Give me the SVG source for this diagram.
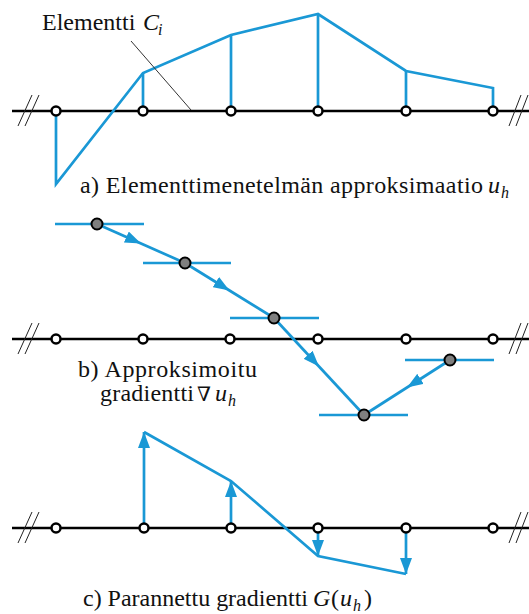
<svg xmlns="http://www.w3.org/2000/svg" width="529" height="614" viewBox="0 0 529 614">
  <style>
    .axis { stroke: #000; stroke-width: 2.6; fill: none; }
    .hash { stroke: #222; stroke-width: 1; fill: none; }
    .blue { stroke: #1a98d5; stroke-width: 2.7; fill: none; stroke-linejoin: miter; }
    .node { fill: #fff; stroke: #000; stroke-width: 2.5; }
    .pt { fill: #7f7f7f; stroke: #000; stroke-width: 2; }
    .lead { stroke: #333; stroke-width: 1; fill: none; }
    text { font-family: "Liberation Serif", "Times New Roman", "DejaVu Serif", serif; font-size: 24px; fill: #111; }
    .m { font-style: italic; }
    .sub { font-style: italic; font-size: 16px; }
    .op { font-size: 20px; }
  </style>
  <defs>
    <marker id="arrow" markerUnits="userSpaceOnUse" markerWidth="16" markerHeight="12" refX="16" refY="6" orient="auto">
      <path d="M0,0 L16,6 L0,12 z" fill="#1a98d5"/>
    </marker>
  </defs>

  <!-- a) element approximation -->
  <g id="panel-a">
    <g id="axis-a">
      <line class="axis" x1="12" y1="111" x2="529" y2="111"/>
      <line class="hash" x1="18" y1="126" x2="32" y2="95"/>
      <line class="hash" x1="25" y1="126" x2="39" y2="95"/>
      <line class="hash" x1="509" y1="126" x2="521" y2="95"/>
      <line class="hash" x1="516" y1="126" x2="528" y2="95"/>
    </g>
    <g id="connectors-a">
      <polyline class="blue" points="56,111 56,184 143,73 231,35 318,14 406,71 493,88 493,111"/>
      <line class="blue" x1="143" y1="73" x2="143" y2="111"/>
      <line class="blue" x1="231" y1="35" x2="231" y2="111"/>
      <line class="blue" x1="318" y1="14" x2="318" y2="111"/>
      <line class="blue" x1="406" y1="71" x2="406" y2="111"/>
      <line class="lead" x1="131" y1="41" x2="191" y2="110"/>
    </g>
    <g id="nodes-a">
      <circle class="node" cx="56" cy="111" r="4.5"/>
      <circle class="node" cx="143" cy="111" r="4.5"/>
      <circle class="node" cx="231" cy="111" r="4.5"/>
      <circle class="node" cx="318" cy="111" r="4.5"/>
      <circle class="node" cx="406" cy="111" r="4.5"/>
      <circle class="node" cx="493" cy="111" r="4.5"/>
    </g>
    <g id="label-element">
      <text x="42" y="30">Elementti</text>
      <text class="m" x="143" y="30">C</text>
      <text class="sub" x="158" y="35">i</text>
    </g>
    <g id="caption-a">
      <text x="80" y="193" textLength="403">a) Elementtimenetelmän approksimaatio</text>
      <text class="m" x="488" y="193">u</text>
      <text class="sub" x="501" y="198">h</text>
    </g>
  </g>

  <!-- b) approximated gradient -->
  <g id="panel-b">
    <g id="axis-b">
      <line class="axis" x1="12" y1="339" x2="529" y2="339"/>
      <line class="hash" x1="18" y1="354" x2="32" y2="323"/>
      <line class="hash" x1="25" y1="354" x2="39" y2="323"/>
      <line class="hash" x1="509" y1="354" x2="521" y2="323"/>
      <line class="hash" x1="516" y1="354" x2="528" y2="323"/>
    </g>
    <g id="connectors-b">
      <line class="blue" x1="55" y1="224" x2="144" y2="224"/>
      <line class="blue" x1="143" y1="263" x2="231" y2="263"/>
      <line class="blue" x1="230" y1="318" x2="319" y2="318"/>
      <line class="blue" x1="319" y1="415" x2="408" y2="415"/>
      <line class="blue" x1="405" y1="360" x2="494" y2="360"/>
      <path class="blue" marker-mid="url(#arrow)" d="M97,224 L141,243.5 L185,263"/>
      <path class="blue" marker-mid="url(#arrow)" d="M185,263 L229.5,290.5 L274,318"/>
      <path class="blue" marker-mid="url(#arrow)" d="M274,318 L319,366.5 L364,415"/>
      <path class="blue" marker-mid="url(#arrow)" d="M450,360 L407,387.5 L364,415"/>
    </g>
    <g id="nodes-b">
      <circle class="node" cx="56" cy="339" r="4.5"/>
      <circle class="node" cx="143" cy="339" r="4.5"/>
      <circle class="node" cx="230" cy="339" r="4.5"/>
      <circle class="node" cx="318" cy="339" r="4.5"/>
      <circle class="node" cx="406" cy="339" r="4.5"/>
      <circle class="node" cx="493" cy="339" r="4.5"/>
      <circle class="pt" cx="97" cy="224" r="5.5"/>
      <circle class="pt" cx="185" cy="263" r="5.5"/>
      <circle class="pt" cx="274" cy="318" r="5.5"/>
      <circle class="pt" cx="364" cy="415" r="5.5"/>
      <circle class="pt" cx="450" cy="360" r="5.5"/>
    </g>
    <g id="caption-b">
      <text x="78" y="377" textLength="179">b) Approksimoitu</text>
      <text x="100" y="401" textLength="94">gradientti</text>
      <text class="op" x="197" y="401">∇</text>
      <text class="m" x="215" y="401">u</text>
      <text class="sub" x="228" y="406">h</text>
    </g>
  </g>

  <!-- c) recovered gradient -->
  <g id="panel-c">
    <g id="axis-c">
      <line class="axis" x1="12" y1="528" x2="529" y2="528"/>
      <line class="hash" x1="18" y1="543" x2="32" y2="512"/>
      <line class="hash" x1="25" y1="543" x2="39" y2="512"/>
      <line class="hash" x1="509" y1="543" x2="521" y2="512"/>
      <line class="hash" x1="516" y1="543" x2="528" y2="512"/>
    </g>
    <g id="connectors-c">
      <polyline class="blue" points="144,432 231,481 318,556 406,574"/>
      <line class="blue" marker-end="url(#arrow)" x1="144" y1="528" x2="144" y2="432"/>
      <line class="blue" marker-end="url(#arrow)" x1="231" y1="528" x2="231" y2="481"/>
      <line class="blue" marker-end="url(#arrow)" x1="318" y1="528" x2="318" y2="556"/>
      <line class="blue" marker-end="url(#arrow)" x1="406" y1="528" x2="406" y2="574"/>
    </g>
    <g id="nodes-c">
      <circle class="node" cx="56" cy="528" r="4.5"/>
      <circle class="node" cx="144" cy="528" r="4.5"/>
      <circle class="node" cx="231" cy="528" r="4.5"/>
      <circle class="node" cx="318" cy="528" r="4.5"/>
      <circle class="node" cx="406" cy="528" r="4.5"/>
      <circle class="node" cx="493" cy="528" r="4.5"/>
    </g>
    <g id="caption-c">
      <text x="83" y="606" textLength="225">c) Parannettu gradientti</text>
      <text class="m" x="313" y="606">G</text>
      <text x="331" y="606">(</text>
      <text class="m" x="340" y="606">u</text>
      <text class="sub" x="353" y="611">h</text>
      <text x="364" y="606">)</text>
    </g>
  </g>
</svg>
